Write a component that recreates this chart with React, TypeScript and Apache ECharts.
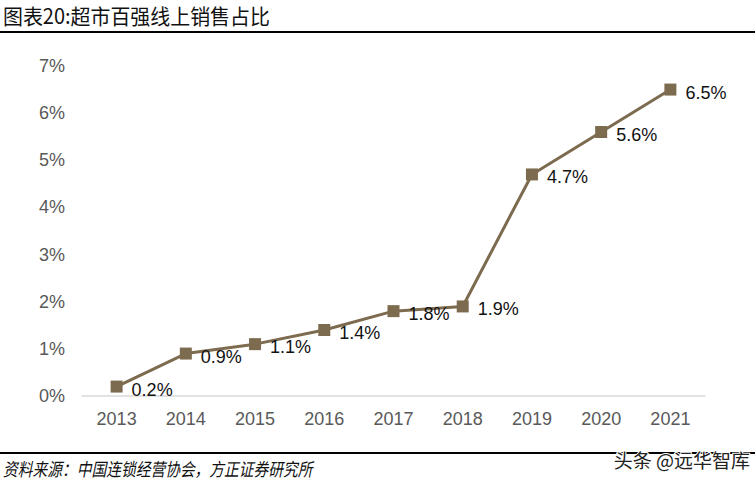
import { useEffect, useRef } from 'react';
import * as echarts from 'echarts';

const years = ['2013', '2014', '2015', '2016', '2017', '2018', '2019', '2020', '2021'];
const onlineShare = [0.2, 0.9, 1.1, 1.4, 1.8, 1.9, 4.7, 5.6, 6.5];

const titleText = '图表20:超市百强线上销售占比';
const sourceText = '资料来源：中国连锁经营协会，方正证券研究所';
const watermarkText = '头条 @远华智库';

export default function App() {
  const chartRef = useRef<HTMLDivElement>(null);

  useEffect(() => {
    if (!chartRef.current) return;
    const chart = echarts.init(chartRef.current, null, { renderer: 'svg' });

    const option: echarts.EChartsOption = {
      animation: false,
      backgroundColor: '#fff',
      grid: { left: 82, right: 50, top: 66, bottom: 90 },
      xAxis: {
        type: 'category',
        data: years,
        boundaryGap: true,
        axisLine: { lineStyle: { color: '#d9d9d9', width: 1.5 } },
        axisTick: { show: false },
        axisLabel: {
          color: '#595959',
          fontSize: 18,
          fontFamily: 'Liberation Sans, Arial',
          margin: 14,
        },
      },
      yAxis: {
        type: 'value',
        min: 0,
        max: 7,
        interval: 1,
        axisLine: { show: false },
        axisTick: { show: false },
        splitLine: { show: false },
        axisLabel: {
          color: '#595959',
          fontSize: 18,
          fontFamily: 'Liberation Sans, Arial',
          margin: 17,
          formatter: '{value}%',
        },
      },
      series: [
        {
          type: 'line',
          data: onlineShare,
          symbol: 'rect',
          symbolSize: 12,
          lineStyle: { color: '#7d6b4f', width: 3 },
          itemStyle: { color: '#7d6b4f' },
          label: {
            show: true,
            position: 'right',
            distance: 9,
            offset: [0, 3],
            color: '#111',
            fontSize: 18,
            fontFamily: 'Liberation Sans, Arial',
            formatter: (p: any) => `${p.value.toFixed(1)}%`,
          },
        },
      ],
      graphic: [
        {
          type: 'text',
          x: 3,
          y: 4,
          scaleX: 0.95,
          style: {
            text: titleText,
            fontSize: 21,
            fontFamily: 'Noto Sans CJK SC',
            fill: '#111',
          },
        },
        {
          type: 'line',
          shape: { x1: 0, y1: 32, x2: 755, y2: 32 },
          style: { stroke: '#000', lineWidth: 2 },
        },
        {
          type: 'line',
          shape: { x1: 0, y1: 453, x2: 755, y2: 453 },
          style: { stroke: '#000', lineWidth: 2 },
        },
        {
          type: 'text',
          x: 3,
          y: 459,
          scaleX: 0.82,
          style: {
            text: sourceText,
            fontSize: 18,
            fontStyle: 'italic',
            fontFamily: 'Noto Sans CJK SC',
            fill: '#111',
          },
        },
        {
          type: 'text',
          right: 4,
          top: 449,
          style: {
            text: watermarkText,
            fontSize: 19,
            fontFamily: 'Noto Sans CJK SC',
            fill: '#222',
            stroke: '#fff',
            lineWidth: 2,
          },
        },
      ],
    };

    chart.setOption(option);
    return () => chart.dispose();
  }, []);

  return (
    <div
      ref={chartRef}
      style={{ position: 'fixed', left: 0, top: 0, width: 755, height: 486 }}
    />
  );
}
